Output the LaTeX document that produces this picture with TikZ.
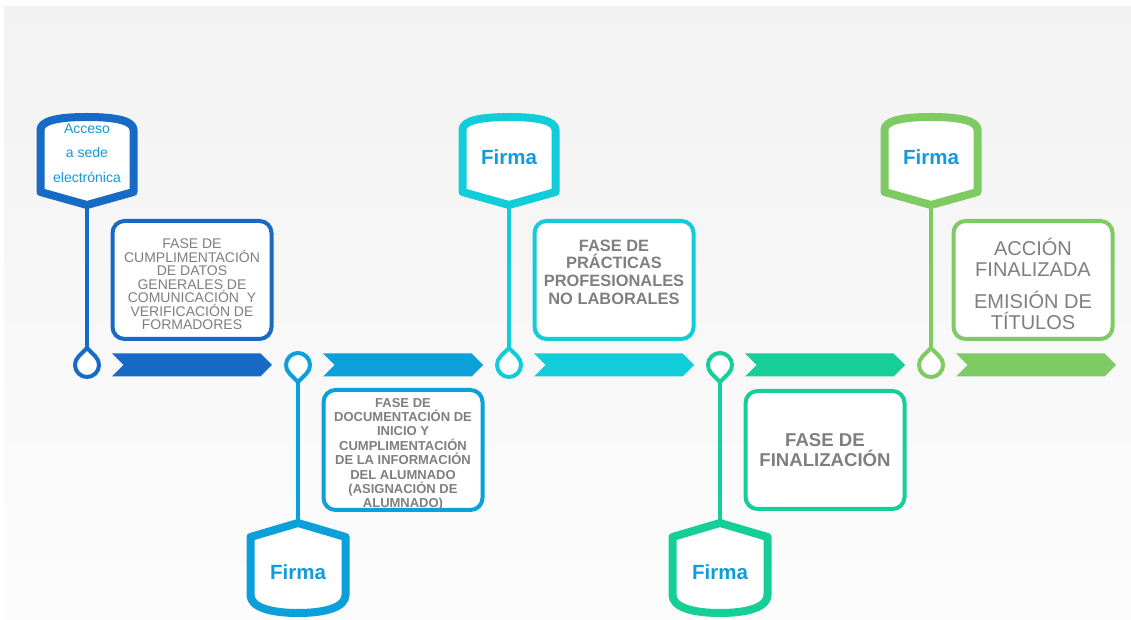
\documentclass[tikz,border=0pt]{standalone}
\usepackage{fontspec}
\setmainfont{Liberation Sans}
\usetikzlibrary{positioning,shapes.symbols,backgrounds}
\definecolor{fasea}{HTML}{176BC4}
\definecolor{faseb}{HTML}{0BA0DA}
\definecolor{fasec}{HTML}{10CDD9}
\definecolor{fased}{HTML}{16CE98}
\definecolor{fasee}{HTML}{7ECB63}
\definecolor{firmablue}{HTML}{109BDC}
\definecolor{textgray}{HTML}{7F7F7F}
\tikzset{node distance=211pt, auto}
\tikzset{
  hito/.style={circle, minimum size=24pt, inner sep=0pt},
  firma/.style={text=firmablue, font=\fontsize{20.5}{24}\selectfont\bfseries, inner sep=0pt, align=center},
  flecha/.style={signal, signal from=west, signal to=east, minimum width=160pt,
                 minimum height=23pt, inner sep=0pt, fill=#1},
  fase/.style={rounded corners=12pt, draw=#1, line width=4pt, fill=white,
               minimum width=159pt, minimum height=118pt, align=center,
               text=textgray, inner sep=2pt},
  tallo/.style={draw=#1, line width=3.5pt},
  escudo/.style={draw=#1, line width=8pt, line join=round, fill=white},
  gota/.style={draw=#1, line width=4pt, fill=white}
}

\begin{document}
\begin{tikzpicture}[x=1pt, y=1pt]
             \useasboundingbox (0,0) rectangle (1131,620);

             % hitos de la linea
             \node[hito] (m1) at (87,255) {};
             \node[hito] (m2) [right of=m1] {};
             \node[hito] (m3) [right of=m2] {};
             \node[hito] (m4) [right of=m3] {};
             \node[hito] (m5) [right of=m4] {};

             % flechas
             \node[flecha=fasea, node distance=105pt] (a1) [right of=m1] {};
             \node[flecha=faseb, node distance=105pt] (a2) [right of=m2] {};
             \node[flecha=fasec, node distance=105pt] (a3) [right of=m3] {};
             \node[flecha=fased, node distance=105pt] (a4) [right of=m4] {};
             \node[flecha=fasee, node distance=105pt] (a5) [right of=m5] {};

             % escudos
             \node[firma, node distance=208pt, font=\fontsize{14}{24.5}\selectfont, text depth=8pt] (s1) [above of=m1] {Acceso\\a sede\\electrónica};
             \node[firma, node distance=207pt] (s2) [below of=m2] {Firma};
             \node[firma, node distance=208pt] (s3) [above of=m3] {Firma};
             \node[firma, node distance=207pt] (s4) [below of=m4] {Firma};
             \node[firma, node distance=208pt] (s5) [above of=m5] {Firma};

             % fases
             \node[fase=fasea, node distance=85pt, font=\fontsize{14}{13.5}\selectfont, text height=100pt] (p1) [above of=a1]
                  {FASE DE\\CUMPLIMENTACIÓN\\DE DATOS\\GENERALES DE\\COMUNICACIÓN\ \ Y\\VERIFICACIÓN DE\\FORMADORES};
             \node[fase=faseb, node distance=85pt, font=\fontsize{13}{14.4}\selectfont\bfseries, text height=116pt, text depth=0pt] (p2) [below of=a2]
                  {FASE DE\\DOCUMENTACIÓN DE\\INICIO Y\\CUMPLIMENTACIÓN\\DE LA INFORMACIÓN\\DEL ALUMNADO\\(ASIGNACIÓN DE\\ALUMNADO)};
             \node[fase=fasec, node distance=85pt, font=\fontsize{16.4}{17.7}\selectfont\bfseries, text depth=16pt] (p3) [above of=a3]
                  {FASE DE\\PRÁCTICAS\\PROFESIONALES\\NO LABORALES};
             \node[fase=fased, node distance=85pt, font=\fontsize{18.6}{20}\selectfont\bfseries] (p4) [below of=a4]
                  {FASE DE\\FINALIZACIÓN};
             \node[fase=fasee, node distance=85pt, font=\fontsize{20}{21}\selectfont, text height=99pt, xshift=-3pt] (p5) [above of=a5]
                  {ACCIÓN\\FINALIZADA\\[11pt]EMISIÓN DE\\TÍTULOS};

             \begin{scope}[on background layer]
               \shade[top color=black!5, bottom color=black!1] (4,0) rectangle (1131,613);

               \draw[tallo=fasea] (s1) -- (m1);
               \draw[tallo=faseb] (s2) -- (m2);
               \draw[tallo=fasec] (s3) -- (m3);
               \draw[tallo=fased] (s4) -- (m4);
               \draw[tallo=fasee] (s5) -- (m5);

               \foreach \s/\c in {s1/fasea, s3/fasec, s5/fasee}
                 \draw[escudo=\c, shift={(\s.center)}] (-46.5,27) -- (-46.5,-35) -- (0,-48) -- (46.5,-35) -- (46.5,27)
                      .. controls (46.5,36) and (30,40) .. (0,40) .. controls (-30,40) and (-46.5,36) .. (-46.5,27) -- cycle;
               \foreach \s/\c in {s2/faseb, s4/fased}
                 \draw[escudo=\c, shift={(\s.center)}] (-47.5,35) -- (0,49) -- (47.5,35) -- (47.5,-23)
                      .. controls (47.5,-35) and (28,-41) .. (0,-41) .. controls (-28,-41) and (-47.5,-35) .. (-47.5,-23) -- cycle;

               \foreach \m/\c in {m1/fasea, m3/fasec, m5/fasee}
                 \draw[gota=\c, shift={(\m.center)}] (0,17) -- (45:12) arc[start angle=45, end angle=-225, radius=12] -- cycle;
               \foreach \m/\c in {m2/faseb, m4/fased}
                 \draw[gota=\c, shift={(\m.center)}] (0,-17) -- (-45:12) arc[start angle=-45, end angle=225, radius=12] -- cycle;
             \end{scope}
          \end{tikzpicture}
\end{document}
